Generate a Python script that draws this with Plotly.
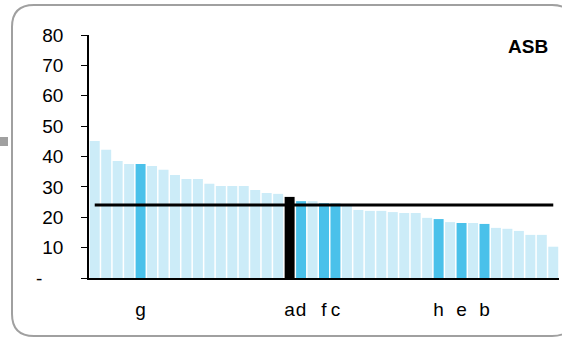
import plotly.graph_objects as go

# ---- data ----
values = [45.1, 42.2, 38.5, 37.5, 37.5, 36.9, 35.6, 33.9, 32.6, 32.6,
          31.0, 30.3, 30.3, 30.3, 29.0, 28.0, 27.7, 26.7, 25.3, 25.3,
          24.6, 24.5, 23.8, 22.4, 22.1, 22.1, 21.7, 21.4, 21.4, 19.8,
          19.4, 18.4, 18.1, 18.1, 17.8, 16.5, 16.2, 15.5, 14.2, 14.2,
          10.3]
bar_labels = ["", "", "", "", "g", "", "", "", "", "",
              "", "", "", "", "", "", "", "a", "d", "",
              "f", "c", "", "", "", "", "", "", "", "",
              "h", "", "e", "", "b", "", "", "", "", "",
              ""]
# group: 0 = other, 1 = peer, 2 = self
bar_group = [0, 0, 0, 0, 1, 0, 0, 0, 0, 0,
             0, 0, 0, 0, 0, 0, 0, 2, 1, 0,
             1, 1, 0, 0, 0, 0, 0, 0, 0, 0,
             1, 0, 1, 0, 1, 0, 0, 0, 0, 0,
             0]
benchmark = 24.0
y_tick_vals = [0, 10, 20, 30, 40, 50, 60, 70, 80]
y_tick_text = ["-\u00a0\u00a0\u00a0\u00a0", "10", "20", "30", "40", "50", "60", "70", "80"]
title_text = "ASB"

group_colors = {0: "#CCECF8", 1: "#4AC1EA", 2: "#000000"}

x = list(range(len(values)))
colors = [group_colors[g] for g in bar_group]
label_pos = [i for i, t in enumerate(bar_labels) if t]
label_txt = [bar_labels[i] for i in label_pos]

fig = go.Figure()
fig.add_trace(go.Bar(x=x, y=values, marker=dict(color=colors, line=dict(width=0)),
                     showlegend=False, hoverinfo="y"))
fig.add_trace(go.Scatter(x=x, y=[benchmark] * len(x), mode="lines",
                         line=dict(color="#000000", width=3), showlegend=False))

# plot area in pixels
L, R, T, B = 89, 559, 35, 278
W, H = R - L, B - T

def px(xp):
    return (xp - L) / W

def py(yp):
    return (B - yp) / H

def rounded_rect(x0, y0, x1, y1, r):
    p = []
    p.append(f"M {px(x0 + r)},{py(y0)}")
    p.append(f"L {px(x1 - r)},{py(y0)}")
    p.append(f"Q {px(x1)},{py(y0)} {px(x1)},{py(y0 + r)}")
    p.append(f"L {px(x1)},{py(y1 - r)}")
    p.append(f"Q {px(x1)},{py(y1)} {px(x1 - r)},{py(y1)}")
    p.append(f"L {px(x0 + r)},{py(y1)}")
    p.append(f"Q {px(x0)},{py(y1)} {px(x0)},{py(y1 - r)}")
    p.append(f"L {px(x0)},{py(y0 + r)}")
    p.append(f"Q {px(x0)},{py(y0)} {px(x0 + r)},{py(y0)}")
    p.append("Z")
    return " ".join(p)

shapes = [
    dict(type="path", xref="paper", yref="paper", path=rounded_rect(12, 5, 574, 336, 22),
         line=dict(color="#A0A0A0", width=2), fillcolor="rgba(0,0,0,0)", layer="below"),
    dict(type="rect", xref="paper", yref="paper", x0=px(0), x1=px(8), y0=py(146), y1=py(137),
         line=dict(width=0), fillcolor="#A0A0A0"),
]

font_family = "Arial, Liberation Sans, sans-serif"

fig.update_layout(
    width=562, height=338,
    margin=dict(l=L, r=562 - R, t=T, b=338 - B),
    paper_bgcolor="white", plot_bgcolor="white",
    bargap=0.13,
    font=dict(family=font_family, size=19, color="#000000"),
    shapes=shapes,
    annotations=[dict(text=f"<b>{title_text}</b>", xref="paper", yref="paper",
                      x=px(550), y=py(46), xanchor="right", yanchor="middle",
                      showarrow=False, font=dict(size=19, family=font_family))],
    xaxis=dict(range=[-0.5, len(values) - 0.5], tickmode="array", tickvals=label_pos,
               ticktext=label_txt, ticks="", tickangle=0, showgrid=False, zeroline=False,
               showline=True, linecolor="#000000", linewidth=2,
               ticklabelstandoff=13, tickfont=dict(size=19)),
    yaxis=dict(range=[0, 80], tickmode="array", tickvals=y_tick_vals, ticktext=y_tick_text,
               ticks="outside", ticklen=6, tickcolor="#000000", tickwidth=1,
               showgrid=False, zeroline=False, showline=True, linecolor="#000000",
               linewidth=1.5, ticklabelstandoff=14, tickfont=dict(size=19)),
)

fig.write_html("out.html", config={"displayModeBar": False},
               post_script="document.body.style.margin='0';document.body.style.overflow='hidden';")
